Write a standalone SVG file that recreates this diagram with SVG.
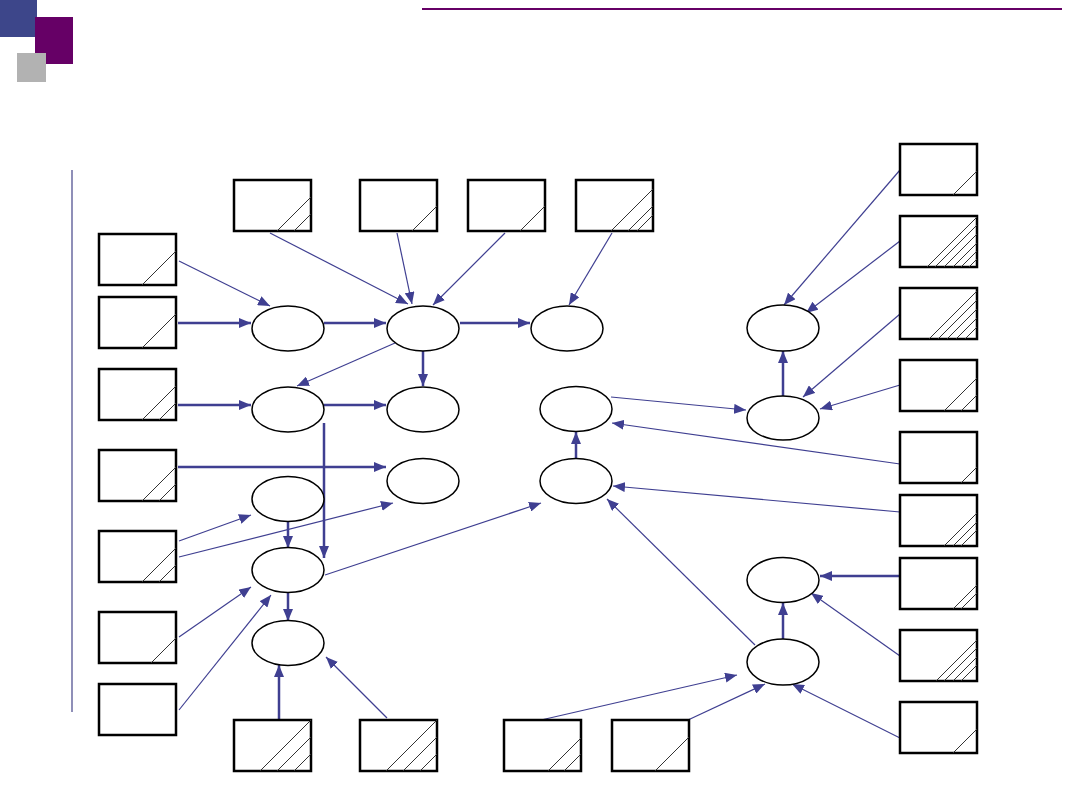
<svg xmlns="http://www.w3.org/2000/svg" width="1080" height="810" viewBox="0 0 1080 810">
<style>
.box{fill:#fff;stroke:#000;stroke-width:2.5}
.h{stroke:#333;stroke-width:1;fill:none}
.el{fill:#fff;stroke:#000;stroke-width:1.5}
.c{stroke:#3f3f91;fill:none;marker-end:url(#ah)}
.t{stroke-width:2.5}
.n{stroke-width:1.2}
</style>
<defs>
<marker id="ah" viewBox="0 0 12 10" refX="12" refY="5" markerWidth="12" markerHeight="10" markerUnits="userSpaceOnUse" orient="auto">
<path d="M0,0 L12,5 L0,10 z" fill="#3f3f91"/>
</marker>
</defs>
<rect width="1080" height="810" fill="#fff"/>
<g id="header">
<rect x="0" y="0" width="37" height="37" fill="#3d468a"/>
<rect x="35" y="17" width="38" height="47" fill="#660066"/>
<rect x="17" y="53" width="29" height="29" fill="#b2b2b2"/>
<line x1="422" y1="9" x2="1062" y2="9" stroke="#660066" stroke-width="2"/>
<line x1="72" y1="170" x2="72" y2="712" stroke="#6a6aa0" stroke-width="1.5"/>
</g>
<g id="connectors">
<line class="c n" x1="179" y1="261" x2="270" y2="306"/>
<line class="c t" x1="178" y1="323" x2="251" y2="323"/>
<line class="c t" x1="324" y1="323" x2="386" y2="323"/>
<line class="c n" x1="270" y1="233" x2="408" y2="304"/>
<line class="c n" x1="397" y1="233" x2="412" y2="304"/>
<line class="c n" x1="505" y1="233" x2="433" y2="305"/>
<line class="c n" x1="612" y1="233" x2="569" y2="305"/>
<line class="c t" x1="460" y1="323" x2="530" y2="323"/>
<line class="c n" x1="395" y1="343" x2="297" y2="386"/>
<line class="c t" x1="423" y1="351" x2="423" y2="386"/>
<line class="c t" x1="178" y1="405" x2="251" y2="405"/>
<line class="c t" x1="324" y1="405" x2="386" y2="405"/>
<line class="c t" x1="324" y1="423" x2="324" y2="558"/>
<line class="c t" x1="178" y1="467" x2="386" y2="467"/>
<line class="c n" x1="179" y1="541" x2="251" y2="515"/>
<line class="c n" x1="179" y1="557" x2="393" y2="503"/>
<line class="c t" x1="288" y1="521" x2="288" y2="548"/>
<line class="c n" x1="179" y1="637" x2="251" y2="587"/>
<line class="c n" x1="179" y1="710" x2="271" y2="595"/>
<line class="c t" x1="288" y1="593" x2="288" y2="621"/>
<line class="c t" x1="279" y1="720" x2="279" y2="665"/>
<line class="c n" x1="387" y1="718" x2="326" y2="657"/>
<line class="c n" x1="325" y1="575" x2="541" y2="503"/>
<line class="c t" x1="576" y1="459" x2="576" y2="432"/>
<line class="c n" x1="755" y1="645" x2="607" y2="499"/>
<line class="c n" x1="900" y1="512" x2="613" y2="486"/>
<line class="c n" x1="900" y1="464" x2="612" y2="423"/>
<line class="c n" x1="611" y1="397" x2="746" y2="410"/>
<line class="c n" x1="900" y1="385" x2="820" y2="409"/>
<line class="c n" x1="900" y1="314" x2="803" y2="397"/>
<line class="c t" x1="783" y1="396" x2="783" y2="351"/>
<line class="c n" x1="900" y1="170" x2="784" y2="305"/>
<line class="c n" x1="900" y1="241" x2="806" y2="313"/>
<line class="c t" x1="900" y1="576" x2="820" y2="576"/>
<line class="c n" x1="900" y1="656" x2="811" y2="593"/>
<line class="c t" x1="783" y1="639" x2="783" y2="603"/>
<line class="c n" x1="900" y1="738" x2="792" y2="684"/>
<line class="c n" x1="541" y1="720" x2="737" y2="675"/>
<line class="c n" x1="688" y1="720" x2="765" y2="684"/>
</g>
<g id="E1"><ellipse class="el" cx="288" cy="328.5" rx="36" ry="22.5"/></g>
<g id="E2"><ellipse class="el" cx="423" cy="328.5" rx="36" ry="22.5"/></g>
<g id="E3"><ellipse class="el" cx="567" cy="328.5" rx="36" ry="22.5"/></g>
<g id="E4"><ellipse class="el" cx="288" cy="409.5" rx="36" ry="22.5"/></g>
<g id="E5"><ellipse class="el" cx="423" cy="409.5" rx="36" ry="22.5"/></g>
<g id="E6"><ellipse class="el" cx="576" cy="409" rx="36" ry="22.5"/></g>
<g id="E7"><ellipse class="el" cx="423" cy="481" rx="36" ry="22.5"/></g>
<g id="E8"><ellipse class="el" cx="576" cy="481" rx="36" ry="22.5"/></g>
<g id="E9"><ellipse class="el" cx="288" cy="499" rx="36" ry="22.5"/></g>
<g id="E10"><ellipse class="el" cx="288" cy="570" rx="36" ry="22.5"/></g>
<g id="E11"><ellipse class="el" cx="288" cy="643" rx="36" ry="22.5"/></g>
<g id="E12"><ellipse class="el" cx="783" cy="328" rx="36" ry="23"/></g>
<g id="E13"><ellipse class="el" cx="783" cy="418" rx="36" ry="22"/></g>
<g id="E14"><ellipse class="el" cx="783" cy="580" rx="36" ry="22.5"/></g>
<g id="E15"><ellipse class="el" cx="783" cy="662" rx="36" ry="23"/></g>
<g id="B1"><rect class="box" x="99" y="234" width="77" height="51"/><path class="h" d="M142,285 L176,251"/></g>
<g id="B2"><rect class="box" x="99" y="297" width="77" height="51"/><path class="h" d="M142,348 L176,314"/></g>
<g id="B3"><rect class="box" x="99" y="369" width="77" height="51"/><path class="h" d="M142,420 L176,386 M159,420 L176,403"/></g>
<g id="B4"><rect class="box" x="99" y="450" width="77" height="51"/><path class="h" d="M142,501 L176,467 M159,501 L176,484"/></g>
<g id="B5"><rect class="box" x="99" y="531" width="77" height="51"/><path class="h" d="M142,582 L176,548 M159,582 L176,565"/></g>
<g id="B6"><rect class="box" x="99" y="612" width="77" height="51"/><path class="h" d="M151,663 L176,638"/></g>
<g id="B7"><rect class="box" x="99" y="684" width="77" height="51"/></g>
<g id="T1"><rect class="box" x="234" y="180" width="77" height="51"/><path class="h" d="M277,231 L311,197 M294,231 L311,214"/></g>
<g id="T2"><rect class="box" x="360" y="180" width="77" height="51"/><path class="h" d="M412,231 L437,206"/></g>
<g id="T3"><rect class="box" x="468" y="180" width="77" height="51"/><path class="h" d="M520,231 L545,206"/></g>
<g id="T4"><rect class="box" x="576" y="180" width="77" height="51"/><path class="h" d="M611,231 L653,189 M628,231 L653,206 M637,231 L653,215"/></g>
<g id="R1"><rect class="box" x="900" y="144" width="77" height="51"/><path class="h" d="M953,195 L977,171"/></g>
<g id="R2"><rect class="box" x="900" y="216" width="77" height="51"/><path class="h" d="M927,267 L977,217 M935,267 L977,225 M944,267 L977,234 M953,267 L977,243 M961,267 L977,251 M969,267 L977,259"/></g>
<g id="R3"><rect class="box" x="900" y="288" width="77" height="51"/><path class="h" d="M929,339 L977,291 M938,339 L977,300 M947,339 L977,309 M956,339 L977,318 M965,339 L977,327"/></g>
<g id="R4"><rect class="box" x="900" y="360" width="77" height="51"/><path class="h" d="M944,411 L977,378 M961,411 L977,395"/></g>
<g id="R5"><rect class="box" x="900" y="432" width="77" height="51"/><path class="h" d="M961,483 L977,467"/></g>
<g id="R6"><rect class="box" x="900" y="495" width="77" height="51"/><path class="h" d="M944,546 L977,513 M953,546 L977,522 M961,546 L977,530"/></g>
<g id="R7"><rect class="box" x="900" y="558" width="77" height="51"/><path class="h" d="M953,609 L977,585 M961,609 L977,593"/></g>
<g id="R8"><rect class="box" x="900" y="630" width="77" height="51"/><path class="h" d="M936,681 L977,640 M944,681 L977,648 M953,681 L977,657 M961,681 L977,665"/></g>
<g id="R9"><rect class="box" x="900" y="702" width="77" height="51"/><path class="h" d="M953,753 L977,729"/></g>
<g id="D1"><rect class="box" x="234" y="720" width="77" height="51"/><path class="h" d="M260,771 L311,720 M277,771 L311,737 M294,771 L311,754"/></g>
<g id="D2"><rect class="box" x="360" y="720" width="77" height="51"/><path class="h" d="M386,771 L437,720 M403,771 L437,737 M420,771 L437,754"/></g>
<g id="D3"><rect class="box" x="504" y="720" width="77" height="51"/><path class="h" d="M548,771 L581,738 M564,771 L581,754"/></g>
<g id="D4"><rect class="box" x="612" y="720" width="77" height="51"/><path class="h" d="M655,771 L689,737"/></g>
</svg>
